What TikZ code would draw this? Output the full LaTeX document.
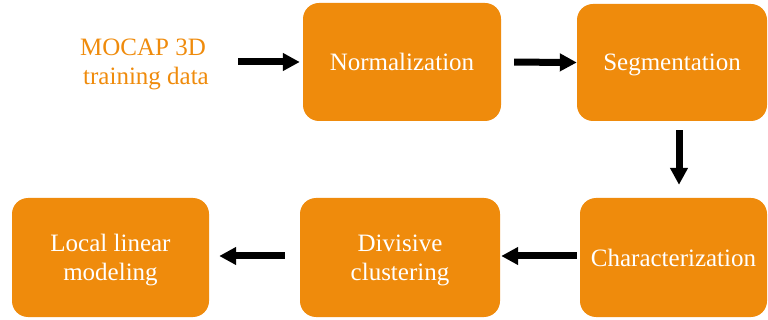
\documentclass[tikz,border=0pt]{standalone}
\usepackage{fontspec}
\setmainfont{Liberation Serif}
\newfontfamily\labelfont{Liberation Serif}
\usetikzlibrary{arrows.meta}
\definecolor{boxorange}{RGB}{239,139,12}
\tikzset{
  labeltext/.style={font=\labelfont\fontsize{25}{29}\selectfont},
  stage/.style={rectangle, rounded corners=16pt, fill=boxorange, draw=none,
    text=white, align=center, inner sep=0pt, text depth=0pt, labeltext},
  flow/.style={line width=7pt, -{Triangle[length=17pt,width=17pt]}}
}
\begin{document}
\begin{tikzpicture}[x=1pt,y=-1pt]
  \useasboundingbox (0,0) rectangle (768,320);

  \node[text=boxorange, align=center, inner sep=0pt, labeltext] (mocap) at (143,64)
        {MOCAP 3D\\ \hspace{6pt}training data};

  \node[stage, minimum width=198pt, minimum height=118pt] (norm) at (402,62) {Normalization};
  \node[stage, minimum width=190pt, minimum height=117pt] (seg) at (672,62.5) {Segmentation};
  \node[stage, minimum width=187pt, minimum height=119pt] (char) at (673.5,257.5) {Characterization};
  \node[stage, minimum width=200pt, minimum height=119pt] (div) at (400,257.5) {Divisive\\clustering};
  \node[stage, minimum width=197pt, minimum height=119pt] (local) at (110.5,257.5) {Local linear\\modeling};

  \draw[flow, shorten <=29pt, shorten >=3pt] (mocap.east |- norm.west) -- (norm.west);
  \draw[flow, shorten <=13pt, shorten >=0pt] (norm.east) -- (seg.west);
  \draw[flow, shorten <=9pt, shorten >=13pt] ([xshift=7pt]seg.south) -- ([xshift=5.5pt]char.north);
  \draw[flow, shorten <=3pt, shorten >=1pt] ([yshift=1.5pt]char.west) -- ([yshift=1.5pt]div.east);
  \draw[flow, shorten <=15pt, shorten >=10pt] ([yshift=1.5pt]div.west) -- ([yshift=1.5pt]local.east);
\end{tikzpicture}
\end{document}
